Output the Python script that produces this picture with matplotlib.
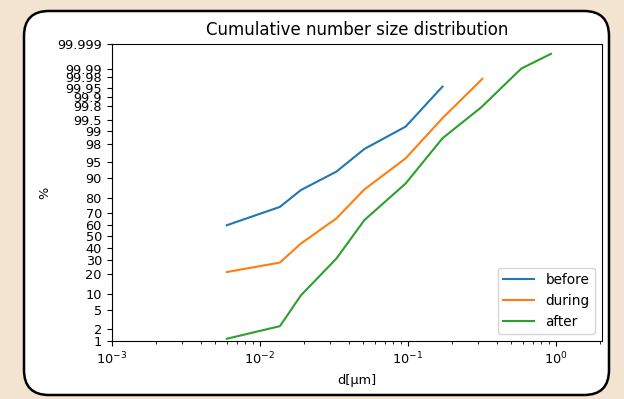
import numpy as np
import matplotlib
matplotlib.use("Agg")
import matplotlib.pyplot as plt
from matplotlib.patches import FancyBboxPatch
from statistics import NormalDist

# --- data ---
d_before = [0.006, 0.0137, 0.019, 0.033, 0.051, 0.097, 0.172]
p_before = [59.6, 74.2, 84.7, 92.4, 97.35, 99.25, 99.955]

d_during = [0.006, 0.0137, 0.019, 0.033, 0.051, 0.097, 0.172, 0.32]
p_during = [21.3, 27.9, 43.5, 65.3, 85.0, 95.8, 99.56, 99.976]

d_after = [0.006, 0.0137, 0.019, 0.033, 0.051, 0.097, 0.172, 0.314, 0.586, 0.93]
p_after = [1.14, 2.29, 9.45, 30.96, 63.9, 87.9, 98.51, 99.787, 99.990, 99.9974]

yticks = [1, 2, 5, 10, 20, 30, 40, 50, 60, 70, 80, 90, 95, 98, 99,
          99.5, 99.8, 99.9, 99.95, 99.98, 99.99, 99.999]
ytick_labels = ["1", "2", "5", "10", "20", "30", "40", "50", "60", "70", "80",
                "90", "95", "98", "99", "99.5", "99.8", "99.9", "99.95",
                "99.98", "99.99", "99.999"]

# normal probability scale (percent)
_nd = NormalDist()
_ppf = np.vectorize(lambda p: _nd.inv_cdf(min(max(p / 100.0, 1e-12), 1 - 1e-12)),
                    otypes=[float])
_cdf = np.vectorize(lambda z: _nd.cdf(z) * 100.0, otypes=[float])


def forward(p):
    return _ppf(np.asarray(p, dtype=float))


def inverse(z):
    return _cdf(np.asarray(z, dtype=float))


plt.rcParams["font.size"] = 9.3

fig = plt.figure(figsize=(6.24, 3.99), dpi=100)
fig.patch.set_facecolor("#F3E4D2")

# rounded white card behind the plot (in inches so the corners stay round)
card = FancyBboxPatch((0.24, 0.04), 5.85, 3.84,
                      boxstyle="round,pad=0,rounding_size=0.25",
                      transform=fig.dpi_scale_trans, facecolor="white",
                      edgecolor="black", linewidth=1.8, zorder=-1)
fig.patches.append(card)

ax = fig.add_axes([0.179, 0.1454, 0.7853, 0.7443])
ax.set_facecolor("none")

ax.plot(d_before, p_before, label="before")
ax.plot(d_during, p_during, label="during")
ax.plot(d_after, p_after, label="after")

ax.set_xscale("log")
ax.set_yscale("function", functions=(forward, inverse))
ax.set_xlim(1e-3, 2.05)
ax.set_ylim(1, 99.999)
ax.set_yticks(yticks)
ax.set_yticklabels(ytick_labels)
ax.yaxis.set_minor_locator(matplotlib.ticker.NullLocator())

ax.set_title("Cumulative number size distribution", fontsize=12, pad=6.5)
ax.set_xlabel("d[µm]", labelpad=5)
ax.set_ylabel("%")
ax.legend(loc="lower right", fontsize=9.8, handlelength=2.3)

fig.savefig("out.png", dpi=100, facecolor=fig.get_facecolor())
